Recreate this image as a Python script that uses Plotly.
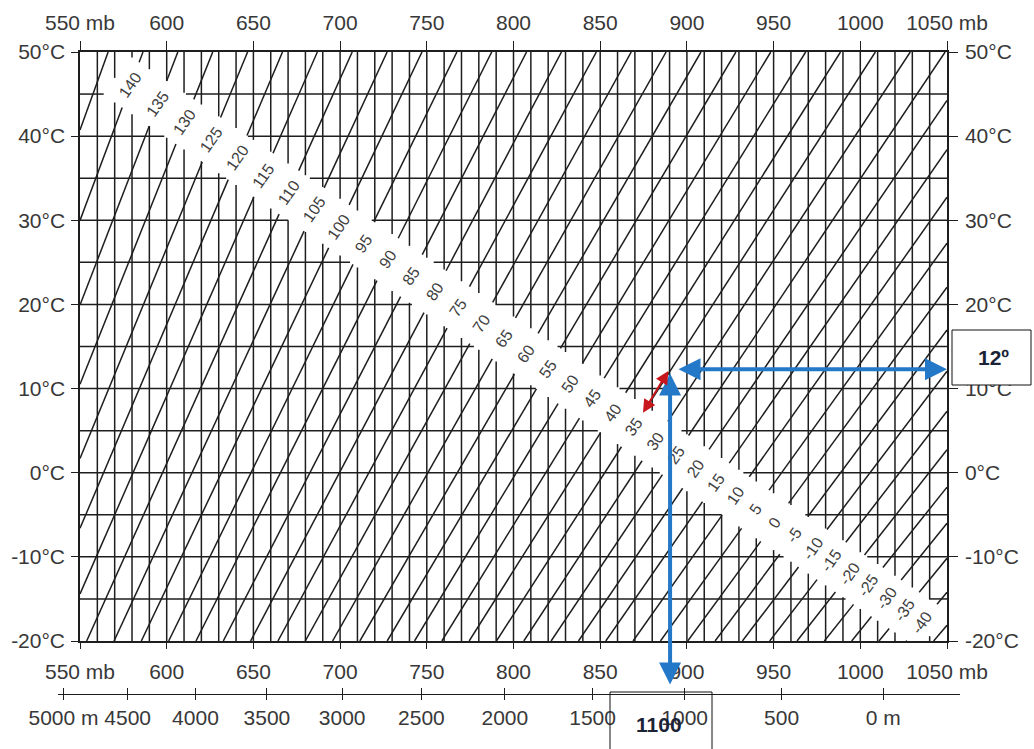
import math
import plotly.graph_objects as go

# ---------------- data ----------------
pressure_ticks_mb = [550, 600, 650, 700, 750, 800, 850, 900, 950, 1000, 1050]
pressure_tick_text = ["550 mb", "600", "650", "700", "750", "800", "850", "900",
                      "950", "1000", "1050 mb"]
temperature_ticks_c = [-20, -10, 0, 10, 20, 30, 40, 50]
temperature_tick_text = ["-20°C", "-10°C", "0°C", "10°C", "20°C", "30°C", "40°C", "50°C"]
altitude_tick_mb = [540.5, 577.5, 616.6, 657.8, 701.2, 746.9, 795.0, 845.6, 898.7, 954.6, 1013.3]
altitude_tick_text = ["5000 m", "4500", "4000", "3500", "3000", "2500", "2000", "1500",
                      "1000", "500", "0 m"]
grid_pressure_mb = list(range(560, 1050, 10))
grid_temperature_c = list(range(-15, 50, 5))
# diagonal lines: label value and p/T ratio (mb per kelvin) of each line
density_line_labels = [145, 140, 135, 130, 125, 120, 115, 110, 105, 100, 95, 90, 85, 80,
                       75, 70, 65, 60, 55, 50, 45, 40, 35, 30, 25, 20, 15, 10, 5, 0,
                       -5, -10, -15, -20, -25, -30, -35, -40, -45]
density_line_ratio = [1.7522, 1.8144, 1.8766, 1.9389, 2.0011, 2.0634, 2.1256, 2.1878,
                      2.2501, 2.3123, 2.3746, 2.4368, 2.4990, 2.5613, 2.6235, 2.6858,
                      2.7480, 2.8102, 2.8725, 2.9347, 2.9970, 3.0592, 3.1214, 3.1837,
                      3.2459, 3.3082, 3.3704, 3.4326, 3.4949, 3.5571, 3.6194, 3.6816,
                      3.7438, 3.8061, 3.8683, 3.9306, 3.9928, 4.0550, 4.1173]
labelled_values = list(range(140, -45, -5))
band_start = (577.7, 46.3)    # position of the "140" label (mb, °C)
band_end = (1035.6, -17.8)    # position of the "-40" label (mb, °C)
reading_pressure_mb = 890.3
reading_temperature_c = 12.3
reading_density_label = 35
box_altitude_text = "1100"
box_temperature_text = "12º"

# ---------------- layout geometry ----------------
W, H = 1034, 749
ML, MR, MT, MB = 50, 70, 52, 20
GRID_L, GRID_R, GRID_T, GRID_B = 80, 947, 52, 641
AREA_W = W - ML - MR
AREA_H = H - MT - MB
P_MIN, P_MAX = 550, 1050
T_MIN, T_MAX = -20, 50
KX = (GRID_R - GRID_L) / (P_MAX - P_MIN)
KY = (GRID_B - GRID_T) / (T_MAX - T_MIN)
K0 = 273.15


def to_px(p, t):
    return (p - P_MIN) * KX, (T_MAX - t) * KY


def p_at(xpix):
    return P_MIN + (xpix - GRID_L) / KX


def t_at(ypix):
    return T_MAX - (ypix - GRID_T) / KY


def paper_x(xpix):
    return (xpix - ML) / AREA_W


def paper_y(ypix):
    return (H - MB - ypix) / AREA_H


# white label band
c0 = to_px(*band_start)
c1 = to_px(*band_end)
BL = math.hypot(c1[0] - c0[0], c1[1] - c0[1])
dv = ((c1[0] - c0[0]) / BL, (c1[1] - c0[1]) / BL)
nv = (-dv[1], dv[0])
BAND_HW = 23.5
BAND_EXT = 14


def band_coords(p, t):
    X, Y = to_px(p, t)
    rx, ry = X - c0[0], Y - c0[1]
    return rx * dv[0] + ry * dv[1], rx * nv[0] + ry * nv[1]


def lin_interval(f0, f1, lo, hi):
    df = f1 - f0
    if abs(df) < 1e-12:
        return (-1e9, 1e9) if lo < f0 < hi else None
    sa, sb = (lo - f0) / df, (hi - f0) / df
    return min(sa, sb), max(sa, sb)


def cut(A, B):
    aA, rA = band_coords(*A)
    aB, rB = band_coords(*B)
    i1 = lin_interval(aA, aB, -BAND_EXT, BL + BAND_EXT)
    i2 = lin_interval(rA, rB, -BAND_HW, BAND_HW)
    if i1 is None or i2 is None:
        return [(A, B)]
    lo = max(0.0, i1[0], i2[0])
    hi = min(1.0, i1[1], i2[1])
    if lo >= hi:
        return [(A, B)]

    def pt(s):
        return (A[0] + s * (B[0] - A[0]), A[1] + s * (B[1] - A[1]))
    segs = []
    if lo > 0:
        segs.append((A, pt(lo)))
    if hi < 1:
        segs.append((pt(hi), B))
    return segs


xs, ys = [], []


def add_seg(A, B):
    for a, b in cut(A, B):
        xs.extend([a[0], b[0], None])
        ys.extend([a[1], b[1], None])


for p in grid_pressure_mb:
    add_seg((p, T_MIN), (p, T_MAX))
for t in grid_temperature_c:
    add_seg((P_MIN, t), (P_MAX, t))
for u in density_line_ratio:
    p_lo = max(P_MIN, u * (T_MIN + K0))
    p_hi = min(P_MAX, u * (T_MAX + K0))
    if p_lo < p_hi:
        add_seg((p_lo, p_lo / u - K0), (p_hi, p_hi / u - K0))

LINE_COLOR = "#1e1e1e"
TEXT_COLOR = "#383838"
FONT = "Liberation Sans, Arial, sans-serif"

fig = go.Figure()
fig.add_trace(go.Scatter(x=xs, y=ys, mode="lines", line=dict(color=LINE_COLOR, width=1.5),
                         hoverinfo="skip", showlegend=False, connectgaps=False))
# helper traces so that the secondary axes are drawn
fig.add_trace(go.Scatter(x=pressure_ticks_mb, y=[None] * len(pressure_ticks_mb),
                         xaxis="x2", yaxis="y2", mode="lines", showlegend=False, hoverinfo="skip"))
fig.add_trace(go.Scatter(x=altitude_tick_mb, y=[None] * len(altitude_tick_mb),
                         xaxis="x3", yaxis="y", mode="lines", showlegend=False, hoverinfo="skip"))
fig.add_trace(go.Scatter(x=altitude_tick_mb, y=[None] * len(altitude_tick_mb),
                         xaxis="x4", yaxis="y", mode="lines", showlegend=False, hoverinfo="skip"))

# band labels
slope = (band_end[1] - band_start[1]) / (band_end[0] - band_start[0])
label_pos = {}
for v, u in zip(density_line_labels, density_line_ratio):
    p_star = (K0 + band_start[1] - slope * band_start[0]) / (1.0 / u - slope)
    t_star = p_star / u - K0
    label_pos[v] = (p_star, t_star)
    if v in labelled_values:
        fig.add_annotation(x=p_star, y=t_star, xref="x", yref="y", text=str(v),
                           showarrow=False, textangle=-55, xanchor="center", yanchor="middle",
                           font=dict(family=FONT, size=16, color="#404040"))

tick_font = dict(family=FONT, size=21, color=TEXT_COLOR)
x_dom = [(GRID_L - ML) / AREA_W, (GRID_R - ML) / AREA_W]
y_dom = [paper_y(GRID_B), 1.0]
alt_l, alt_r = 58, 960
alt_pos = paper_y(694)

axis_common = dict(showgrid=False, zeroline=False, showline=True, linecolor=LINE_COLOR,
                   linewidth=1.5, tickcolor=LINE_COLOR, tickwidth=1.4, ticks="outside",
                   tickfont=tick_font, automargin=False, fixedrange=True)

fig.update_layout(
    width=W, height=H,
    margin=dict(l=ML, r=MR, t=MT, b=MB, pad=0),
    paper_bgcolor="white", plot_bgcolor="rgba(0,0,0,0)",
    showlegend=False,
    xaxis=dict(axis_common, domain=x_dom, range=[P_MIN, P_MAX], anchor="y", side="bottom",
               tickmode="array", tickvals=pressure_ticks_mb, ticktext=pressure_tick_text,
               ticklen=6, ticklabelstandoff=5),
    xaxis2=dict(axis_common, domain=x_dom, range=[P_MIN, P_MAX], anchor="y2", side="top",
                overlaying="x", tickmode="array", tickvals=pressure_ticks_mb,
                ticktext=pressure_tick_text, ticklen=9, ticklabelstandoff=3),
    yaxis=dict(axis_common, domain=y_dom, range=[T_MIN, T_MAX], anchor="x", side="left",
               tickmode="array", tickvals=temperature_ticks_c, ticktext=temperature_tick_text,
               ticklen=7, ticklabelstandoff=2),
    yaxis2=dict(axis_common, domain=y_dom, range=[T_MIN, T_MAX], anchor="x2", side="right",
                overlaying="y", tickmode="array", tickvals=temperature_ticks_c,
                ticktext=temperature_tick_text, ticklen=9, ticklabelstandoff=3),
    xaxis3=dict(axis_common, domain=[paper_x(alt_l), paper_x(alt_r)],
                range=[p_at(alt_l), p_at(alt_r)], anchor="free", position=alt_pos,
                side="bottom", tickmode="array", tickvals=altitude_tick_mb,
                ticktext=altitude_tick_text, ticklen=5, linewidth=1.3, ticklabelstandoff=0),
    xaxis4=dict(axis_common, domain=[paper_x(alt_l), paper_x(alt_r)],
                range=[p_at(alt_l), p_at(alt_r)], anchor="free", position=alt_pos,
                side="bottom", tickmode="array", tickvals=altitude_tick_mb,
                ticks="inside", ticklen=6, showticklabels=False, showline=False),
)

# ---- reading overlay (blue / red arrows and boxes) ----
BLUE = "#2478c8"
RED = "#c8161d"
fig.add_annotation(x=P_MAX, y=reading_temperature_c, xref="x", yref="y",
                   ax=reading_pressure_mb + 4, ay=reading_temperature_c, axref="x", ayref="y",
                   text="", showarrow=True, arrowside="end+start", arrowhead=2,
                   startarrowhead=2, arrowsize=1.1, startarrowsize=1.1, arrowwidth=4,
                   arrowcolor=BLUE)
fig.add_annotation(x=reading_pressure_mb, y=reading_temperature_c - 0.5, xref="x", yref="y",
                   ax=reading_pressure_mb, ay=t_at(686), axref="x", ayref="y",
                   text="", showarrow=True, arrowside="end+start", arrowhead=2,
                   startarrowhead=2, arrowsize=1.1, startarrowsize=1.1, arrowwidth=4,
                   arrowcolor=BLUE)
lp, lt = label_pos[reading_density_label]
fr = 0.78
fig.add_annotation(x=reading_pressure_mb - 1.0, y=reading_temperature_c - 0.2, xref="x", yref="y",
                   ax=reading_pressure_mb + fr * (lp - reading_pressure_mb),
                   ay=reading_temperature_c + fr * (lt - reading_temperature_c),
                   axref="x", ayref="y",
                   text="", showarrow=True, arrowside="end+start", arrowhead=2,
                   startarrowhead=2, arrowsize=1.3, startarrowsize=1.3, arrowwidth=2,
                   arrowcolor=RED)

# boxes
fig.add_shape(type="rect", xref="paper", yref="paper",
              x0=paper_x(952), x1=paper_x(1031), y0=paper_y(385), y1=paper_y(330),
              line=dict(color="#111111", width=1), fillcolor="white", layer="above")
fig.add_shape(type="rect", xref="paper", yref="paper",
              x0=paper_x(610), x1=paper_x(712), y0=paper_y(760), y1=paper_y(692),
              line=dict(color="#111111", width=1), fillcolor="rgba(0,0,0,0)", layer="above")
fig.add_annotation(x=paper_x(993), y=paper_y(357), xref="paper", yref="paper",
                   xanchor="center", yanchor="middle",
                   text="<b>" + box_temperature_text + "</b>", showarrow=False,
                   font=dict(family=FONT, size=21, color="#1b2436"))
fig.add_annotation(x=paper_x(659), y=paper_y(724), xref="paper", yref="paper",
                   xanchor="center", yanchor="middle",
                   text="<b>" + box_altitude_text + "</b>", showarrow=False,
                   font=dict(family=FONT, size=21, color="#1b2436"))

fig.write_html("out.html", config={"displayModeBar": False},
               post_script="document.body.style.margin='0px';")
